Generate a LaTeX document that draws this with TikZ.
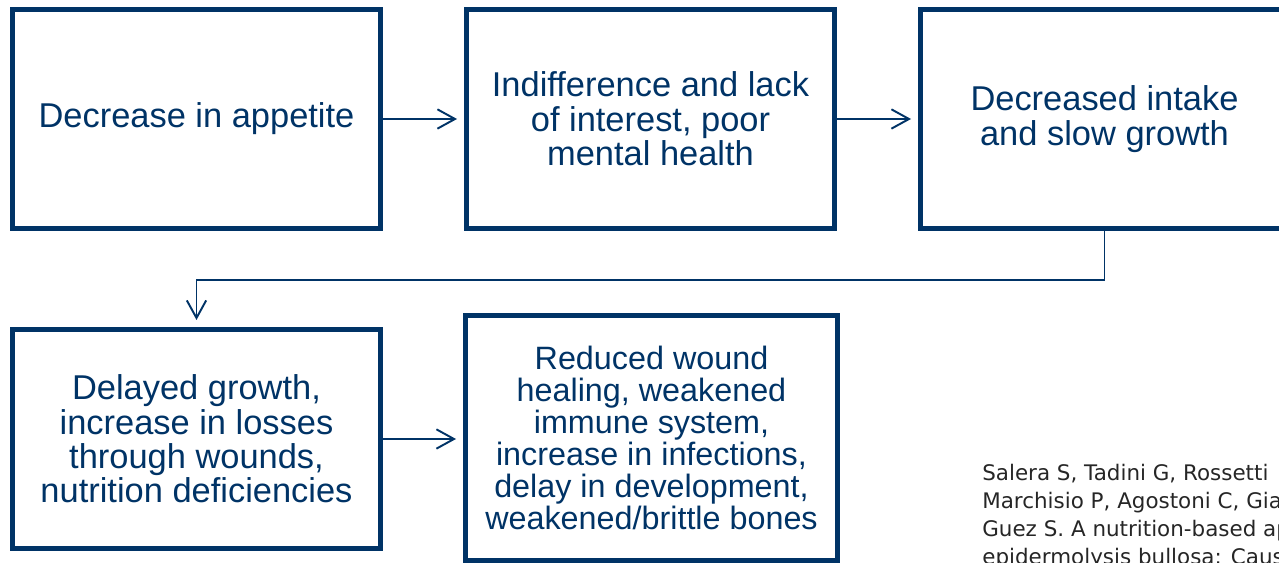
\documentclass[tikz,border=0pt]{standalone}
\usepackage{fontspec}
\setmainfont{Liberation Sans}
\newfontfamily\citefont{DejaVu Sans}
\usetikzlibrary{arrows.meta}
\definecolor{navy}{RGB}{0,51,102}
\definecolor{citegray}{RGB}{38,38,38}

\begin{document}
\begin{tikzpicture}[x=0.02cm,y=-0.02cm,
    box/.style={draw=navy, line width=0.1cm, minimum width=7.36cm, minimum height=4.38cm, inner sep=0pt, text=navy, align=center, font=\fontsize{19.6}{19.6}\selectfont},
    link/.style={draw=navy, line width=1.1pt, -{Straight Barb[length=10pt,width=11pt]}, shorten >=4pt}]
            \useasboundingbox (0,0) rectangle (1279,563);
            \node[box] (appetite) at (196.5,119) {Decrease in appetite};
            \node[box] (interest) at (650.5,119) {Indifference and lack\\of interest, poor\\mental health};
            \node[box] (intake) at (1104.5,119) {Decreased intake\\and slow growth};
            \node[box] (growth) at (196.5,439) {Delayed growth,\\increase in losses\\through wounds,\\nutrition deficiencies};
            \node[box, minimum width=7.44cm, minimum height=4.9cm, font=\fontsize{18.4}{18.3}\selectfont] (healing) at (651.5,438) {Reduced wound\\healing, weakened\\immune system,\\increase in infections,\\delay in development,\\weakened/brittle bones};
            \draw[link] (appetite.east) -- (interest.west);
            \draw[link] (interest.east) -- (intake.west);
            \coordinate (bend) at (0,280);
            \draw[link] (intake.south) |- (bend -| growth.north) -- (growth.north);
            \draw[link] (growth.east) -- (growth.east -| healing.west);
            \node[anchor=north west, align=left, inner sep=0pt, text=citegray, font=\citefont\fontsize{12.2}{15.87}\selectfont] (source) at (982,464) {Salera S, Tadini G, Rossetti\\Marchisio P, Agostoni C, Giavoli\\Guez S. A nutrition-based approach\\epidermolysis bullosa: Causes};
        \end{tikzpicture}
\end{document}
